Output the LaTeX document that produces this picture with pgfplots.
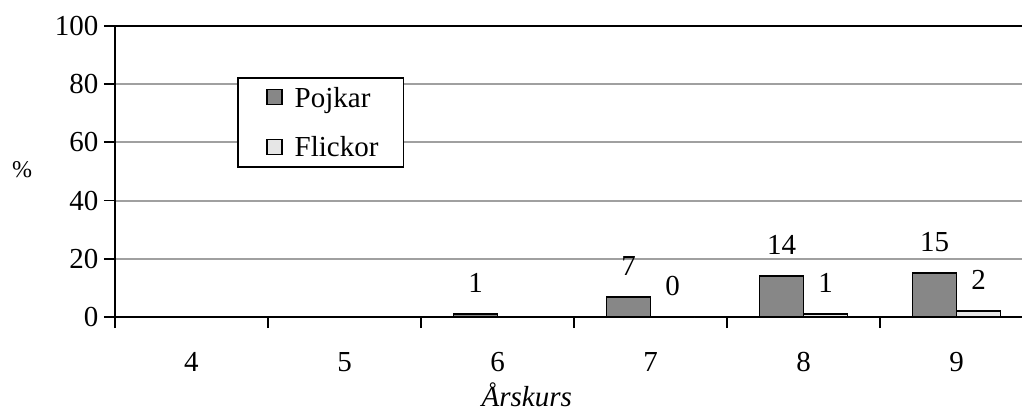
\documentclass[border=0pt]{standalone}
\usepackage{fontspec}
\setmainfont{Liberation Serif}
\usepackage{pgfplots}
\pgfplotsset{compat=1.18}
\definecolor{pojk}{HTML}{878787}
\definecolor{flick}{HTML}{E6E6E6}
\definecolor{grd}{HTML}{A0A0A0}
\begin{document}
\begin{tikzpicture}
\begin{axis}[
  at={(0,0)}, anchor=south west,
  scale only axis, width=907pt, height=291pt,
  xmin=3.5, xmax=9.4281, ymin=0, ymax=100,
  ybar=0pt, bar width=44pt,
  axis x line*=bottom, axis y line*=left,
  axis line style={black, line width=1.8pt},
  /pgf/number format/assume math mode=true,
  ticklabel style={font=\fontsize{29}{32}\selectfont},
  tick align=outside, major tick length=11pt,
  tick style={black, line width=1.8pt},
  ytick={0,20,40,60,80}, ymajorgrids,
  major grid style={grd, line width=2pt},
  extra y ticks={100},
  extra y tick style={grid=major, major grid style={black, line width=2pt}},
  xtick={4,...,9}, xticklabels={4,5,6,7,8,9},
  xtick style={draw=none},
  extra x ticks={3.5,4.5,5.5,6.5,7.5,8.5},
  extra x tick labels={},
  extra x tick style={xtick style={draw=black}, major tick length=11pt},
  xticklabel style={yshift=-21pt},
  yticklabel style={xshift=-2pt},
  xlabel={\textit{Årskurs}},
  xlabel style={at={(axis description cs:0.454,0)}, anchor=center, yshift=-78pt, font=\fontsize{29}{32}\selectfont},
  ylabel={\%},
  ylabel style={at={(axis description cs:0,0.505)}, rotate=-90, anchor=center, xshift=-93pt, font=\fontsize{24}{26}\selectfont},
  nodes near coords,
  nodes near coords style={font=\fontsize{29}{32}\selectfont, anchor=center, yshift=31pt, black},
  legend style={at={(rel axis cs:0.1345,0.8247)}, anchor=north west, draw=black, line width=1.8pt,
    font=\fontsize{29}{32}\selectfont, inner xsep=6pt, inner ysep=7pt, row sep=24pt, cells={anchor=west}},
  legend image code/.code={\path (0pt,0pt) (47pt,0pt); \draw[#1, line width=1.5pt] (22pt,-7pt) rectangle (37pt,8pt);},
]
\addplot[draw=black, line width=1.8pt, fill=pojk] coordinates {(6,1) (7,7) (8,14) (9,15)};
\addlegendentry{Pojkar}
\addplot[draw=black, line width=1.8pt, fill=flick] coordinates {(7,0) (8,1) (9,2)};
\addlegendentry{Flickor\hspace*{17pt}}
\end{axis}
\pgfresetboundingbox
\path[use as bounding box] (-115pt,-95pt) rectangle (907pt,317pt);
\end{tikzpicture}
\end{document}
